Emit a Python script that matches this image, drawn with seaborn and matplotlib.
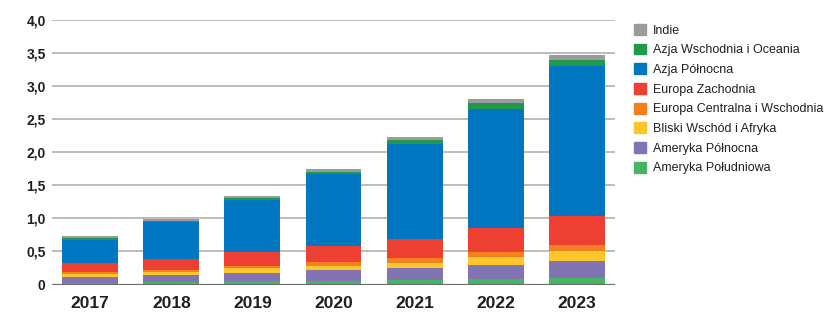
import matplotlib
matplotlib.use("Agg")
import matplotlib.pyplot as plt
import matplotlib.patches as mpatches
import numpy as np
import pandas as pd
import seaborn as sns

years = ["2017", "2018", "2019", "2020", "2021", "2022", "2023"]
ameryka_poludniowa = [0.02, 0.04, 0.05, 0.055, 0.07, 0.08, 0.10]
ameryka_polnocna = [0.10, 0.10, 0.12, 0.16, 0.18, 0.215, 0.26]
bliski_wschod = [0.04, 0.05, 0.08, 0.07, 0.08, 0.115, 0.15]
europa_centralna = [0.03, 0.03, 0.035, 0.05, 0.07, 0.085, 0.09]
europa_zachodnia = [0.13, 0.17, 0.20, 0.25, 0.29, 0.36, 0.44]
azja_polnocna = [0.36, 0.55, 0.79, 1.08, 1.43, 1.805, 2.26]
azja_wschodnia = [0.03, 0.025, 0.03, 0.04, 0.06, 0.085, 0.10]
indie = [0.02, 0.025, 0.03, 0.04, 0.05, 0.065, 0.07]

series_names = ["Ameryka Południowa", "Ameryka Północna", "Bliski Wschód i Afryka",
                "Europa Centralna i Wschodnia", "Europa Zachodnia", "Azja Północna",
                "Azja Wschodnia i Oceania", "Indie"]
series_values = [ameryka_poludniowa, ameryka_polnocna, bliski_wschod, europa_centralna,
                 europa_zachodnia, azja_polnocna, azja_wschodnia, indie]
colors = ["#45b463", "#8274b2", "#fdc62a", "#f4811f", "#ee3f33", "#0077c0", "#1f9a4d", "#9b9b9d"]
yticks = [0, 0.5, 1.0, 1.5, 2.0, 2.5, 3.0, 3.5, 4.0]

sns.set_theme(style="white")
plt.rcParams['font.family'] = ['Liberation Sans', 'DejaVu Sans']

fig = plt.figure(figsize=(8.4, 3.25), dpi=100)
ax = fig.add_axes([52 / 840, 1 - 284.5 / 325, 563 / 840, 264.5 / 325])

# cumulative for stacking
cum = np.cumsum(np.array(series_values), axis=0)
for i in range(len(series_names) - 1, -1, -1):
    df = pd.DataFrame({"year": years, "value": cum[i]})
    sns.barplot(data=df, x="year", y="value", color=colors[i], width=0.69,
                saturation=1, ax=ax, zorder=3, linewidth=0)

ax.set_ylim(0, 4.0)
ax.set_xlim(-0.47, 6.47)
ax.set_yticks(yticks)
ax.set_yticklabels(["0" if t == 0 else f"{t:.1f}".replace(".", ",") for t in yticks],
                   fontsize=10, fontweight="bold", color="#231f20")
ax.set_xticklabels(years, fontsize=12.5, fontweight="bold", color="#231f20")
ax.tick_params(axis="y", length=0, pad=4.5)
ax.tick_params(axis="x", length=0, pad=8)
ax.set_xlabel("")
ax.set_ylabel("")
for t in yticks[1:]:
    ax.axhline(t, color="#a9a9ab", lw=1.1, zorder=1)
ax.axhline(0, color="#6d6d6f", lw=1.6, zorder=4)
for s in ax.spines.values():
    s.set_visible(False)

handles = [mpatches.Patch(color=colors[i], label=series_names[i]) for i in range(len(series_names) - 1, -1, -1)]
fig.legend(handles=handles, loc="upper left", bbox_to_anchor=(634 / 840, 1 - 24 / 325),
           frameon=False, fontsize=9, handlelength=0.95, handleheight=0.95,
           handletextpad=0.55, labelspacing=0.56, borderaxespad=0, borderpad=0,
           labelcolor="#231f20")

fig.savefig("out.png", dpi=100)
